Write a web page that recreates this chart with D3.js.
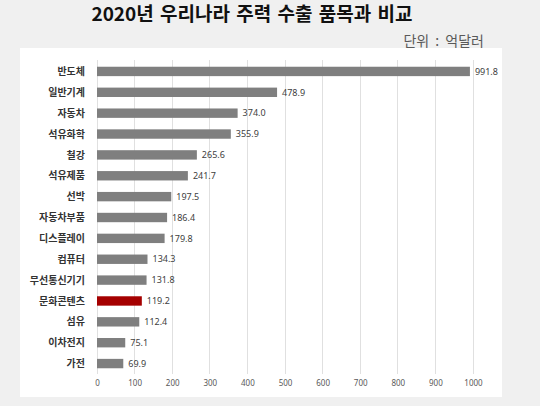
<!DOCTYPE html>
<html>
<head>
<meta charset="utf-8">
<script src="https://cdn.jsdelivr.net/npm/d3@7"></script>
<style>
    html, body { margin: 0; padding: 0; background: #f0f0f0; }
    svg { display: block; }
    .tick text { font-family: "Noto Sans", sans-serif; }
</style>
</head>
<body>
<div id="chart"></div>
<script>
const items = ["반도체", "일반기계", "자동차", "석유화학", "철강", "석유제품", "선박", "자동차부품",
    "디스플레이", "컴퓨터", "무선통신기기", "문화콘텐츠", "섬유", "이차전지", "가전"];
const exports2020 = [991.8, 478.9, 374.0, 355.9, 265.6, 241.7, 197.5, 186.4,
    179.8, 134.3, 131.8, 119.2, 112.4, 75.1, 69.9];
const xTicks = [0, 100, 200, 300, 400, 500, 600, 700, 800, 900, 1000];
const highlighted = "문화콘텐츠";

const width = 540, height = 406;
const panel = { x: 20, y: 48, w: 482, h: 349 };

const svg = d3.select("#chart")
    .append("svg")
    .attr("width", width)
    .attr("height", height);

svg.append("rect")
    .attr("width", width)
    .attr("height", height)
    .attr("fill", "#f0f0f0");

svg.append("rect")
    .attr("x", panel.x)
    .attr("y", panel.y)
    .attr("width", panel.w)
    .attr("height", panel.h)
    .attr("fill", "#fff");

svg.append("text")
    .text("2020년 우리나라 주력 수출 품목과 비교")
    .attr("x", 252)
    .attr("y", 21)
    .attr("text-anchor", "middle")
    .style("font-family", "'Noto Sans CJK KR', sans-serif")
    .style("font-weight", "bold")
    .style("font-size", "19px")
    .style("word-spacing", "2px")
    .style("fill", "#111");

svg.append("text")
    .text("단위 : 억달러")
    .attr("x", 484)
    .attr("y", 46)
    .attr("text-anchor", "end")
    .style("font-family", "'Noto Sans CJK KR', sans-serif")
    .style("font-size", "14px")
    .style("word-spacing", "3px")
    .style("fill", "#595959");

const x = d3.scaleLinear()
    .domain([0, 1000])
    .range([97, 473]);

const y = d3.scaleBand()
    .domain(items)
    .range([61, 374])
    .paddingInner(0.55)
    .paddingOuter(0.275);

// gridlines
svg.append("g")
    .selectAll("line")
    .data(xTicks)
    .join("line")
    .attr("x1", d => x(d))
    .attr("x2", d => x(d))
    .attr("y1", 60)
    .attr("y2", 374)
    .attr("stroke", "#e0e0e0")
    .attr("stroke-width", 1)
    .attr("shape-rendering", "crispEdges");

const xAxis = d3.axisBottom(x)
    .tickValues(xTicks)
    .tickFormat(d3.format("d"))
    .tickSize(0)
    .tickPadding(0);

svg.append("g")
    .attr("transform", "translate(0, 380)")
    .call(xAxis)
    .call(g => g.select(".domain").remove())
    .call(g => g.selectAll(".tick text")
        .attr("dy", "0.71em")
        .style("font-size", "8px")
        .style("fill", "#595959"));

const bars = items.map((name, i) => ({ name, value: exports2020[i] }));

svg.append("g")
    .selectAll("rect")
    .data(bars)
    .join("rect")
    .attr("x", x(0))
    .attr("y", d => y(d.name))
    .attr("width", d => x(d.value) - x(0))
    .attr("height", y.bandwidth())
    .attr("fill", d => d.name === highlighted ? "#a50000" : "#7f7f7f");

// category labels
svg.append("g")
    .selectAll("text")
    .data(bars)
    .join("text")
    .attr("x", 85)
    .attr("y", d => y(d.name) + y.bandwidth() / 2)
    .attr("dy", "0.36em")
    .attr("text-anchor", "end")
    .style("font-family", "'Noto Sans CJK KR', sans-serif")
    .style("font-weight", "bold")
    .style("font-size", "10px")
    .style("fill", "#333")
    .text(d => d.name);

// value labels
svg.append("g")
    .selectAll("text")
    .data(bars)
    .join("text")
    .attr("x", d => x(d.value) + 5)
    .attr("y", d => y(d.name) + y.bandwidth() / 2)
    .attr("dy", "0.36em")
    .style("font-family", "'Noto Sans', sans-serif")
    .style("font-size", "9px")
    .style("fill", "#404040")
    .text(d => d3.format(".1f")(d.value));
</script>
</body>
</html>
